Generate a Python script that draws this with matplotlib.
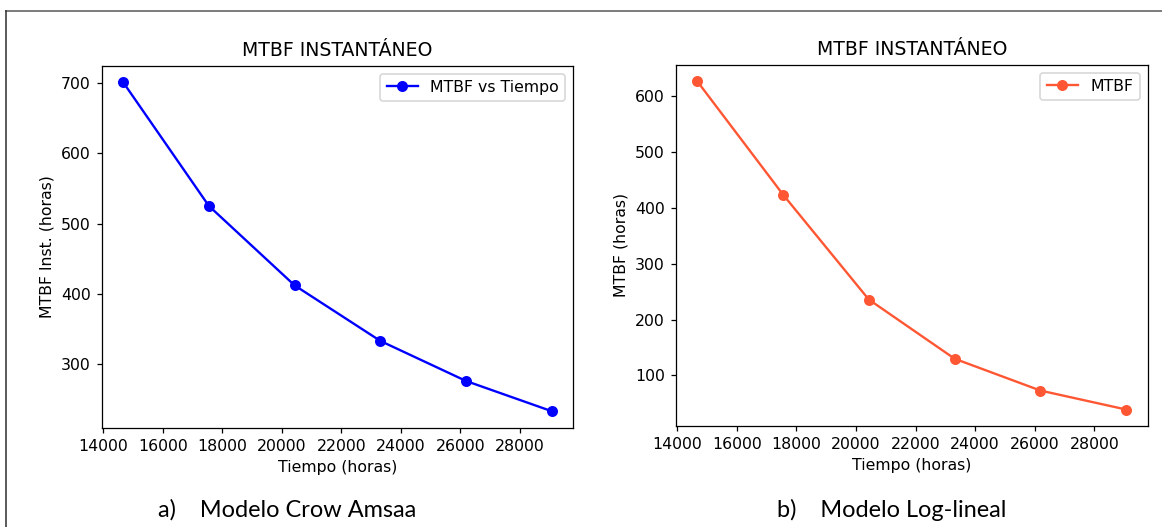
import numpy as np
import matplotlib
matplotlib.use("Agg")
import matplotlib.pyplot as plt
from matplotlib.lines import Line2D

# tiempos de evaluacion (horas)
tiempo = [14670, 17550, 20430, 23310, 26190, 29070]
# MTBF instantaneo, modelo Crow-AMSAA
mtbf_crow = [701, 525, 412, 333, 276, 233]
# MTBF, modelo log-lineal
mtbf_loglin = [627, 424, 236, 130, 73, 39]

dpi = 113
fig = plt.figure(figsize=(1162 / dpi, 527 / dpi), dpi=dpi)

ax1 = fig.add_axes([0.0875, 0.1884, 0.4059, 0.6869])
ax1.plot(tiempo, mtbf_crow, marker="o", color="blue", label="MTBF vs Tiempo")
ax1.set_title("MTBF INSTANTÁNEO")
ax1.set_xlabel("Tiempo (horas)")
ax1.set_ylabel("MTBF Inst. (horas)")
ax1.legend(loc="upper right")

ax2 = fig.add_axes([0.5815, 0.1917, 0.4062, 0.6855])
ax2.plot(tiempo, mtbf_loglin, marker="o", color="#FF5733", label="MTBF")
ax2.set_title("MTBF INSTANTÁNEO")
ax2.set_xlabel("Tiempo (horas)")
ax2.set_ylabel("MTBF (horas)")
ax2.legend(loc="upper right")

# captions below each chart
fig.text(0.247, 0.033, "a)    Modelo Crow Amsaa", ha="center", va="center",
         fontsize=15, family=["Lato", "DejaVu Sans"])
fig.text(0.767, 0.033, "b)    Modelo Log-lineal", ha="center", va="center",
         fontsize=15, family=["Lato", "DejaVu Sans"])

# frame of the original document figure
fig.add_artist(Line2D([6 / 1162, 1.0], [1 - 11 / 527] * 2, color="#777777", lw=1.2))
fig.add_artist(Line2D([6 / 1162] * 2, [0.0, 1 - 11 / 527], color="#333333", lw=1.0))

fig.savefig("out.png", dpi=dpi)
